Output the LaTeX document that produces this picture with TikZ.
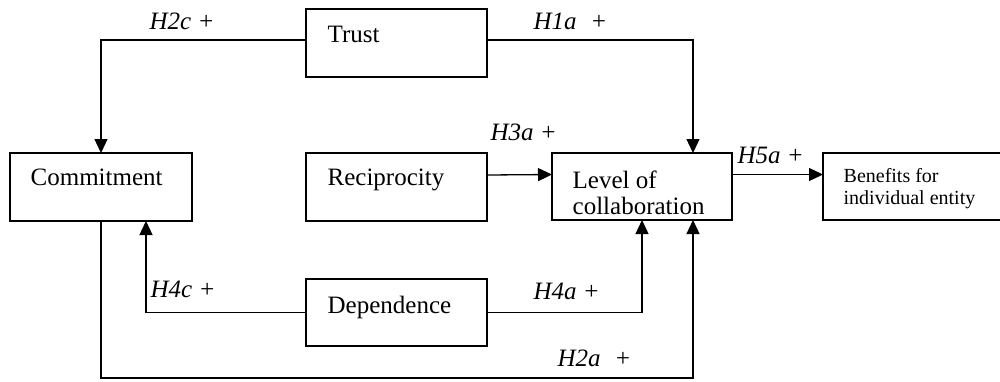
\documentclass[tikz,border=0pt]{standalone}
\usepackage{fontspec}
\setmainfont{Liberation Serif}
\usetikzlibrary{arrows.meta}

\begin{document}
\begin{tikzpicture}[x=1pt, y=-1pt,
  every path/.style={line width=1.3pt},
  conceptbox/.style={draw, line width=1.3pt, anchor=north west, inner sep=0pt, outer sep=0pt},
  boxtext/.style={anchor=north west, inner sep=0pt, align=left,
                  font=\fontsize{25}{26.5}\selectfont},
  smalltext/.style={anchor=north west, inner sep=0pt, align=left,
                  font=\fontsize{20}{22}\selectfont},
  hyp/.style={anchor=base west, inner sep=0pt, font=\itshape\fontsize{25}{30}\selectfont},
  arr/.style={-{Triangle[length=14pt,width=13pt]}, line width=1.3pt}
]
\useasboundingbox (0,0) rectangle (1000,381);

% concept boxes
\node[conceptbox, minimum width=181pt, minimum height=68pt] (trust)  at (306,9)   {};
\node[conceptbox, minimum width=182pt, minimum height=68pt] (commit) at (10,153)  {};
\node[conceptbox, minimum width=181pt, minimum height=68pt] (recip)  at (306,153) {};
\node[conceptbox, minimum width=181pt, minimum height=67pt] (dep)    at (306,279) {};
\node[conceptbox, minimum width=180pt, minimum height=67pt] (level)  at (552,153) {};
\node[conceptbox, minimum width=195pt, minimum height=67pt] (ben)    at (823,153) {};

% box captions
\node[boxtext] (trust-t)  at ([xshift=21pt,  yshift=-16pt]trust.north west)  {Trust};
\node[boxtext] (commit-t) at ([xshift=20pt,  yshift=-15pt]commit.north west) {Commitment};
\node[boxtext] (recip-t)  at ([xshift=21pt,  yshift=-15pt]recip.north west)  {Reciprocity};
\node[boxtext] (dep-t)    at ([xshift=21pt,  yshift=-16pt]dep.north west)    {Dependence};
\node[boxtext] (level-t)  at ([xshift=20pt,  yshift=-17pt]level.north west)  {Level of\\collaboration};
\node[smalltext] (ben-t)  at ([xshift=20pt,  yshift=-15pt]ben.north west)    {Benefits for\\individual entity};

% helper for the long bottom run
\coordinate (lowrun) at (0,378);

% connectors
\draw[arr] ([yshift=3pt]trust.west) -| (commit.north);
\draw[arr] ([yshift=3pt]trust.east) -| ([xshift=51pt]level.north);
\draw[arr] ([yshift=12pt]recip.east) -- ([yshift=12pt]level.west);
\draw[arr] ([yshift=12pt]level.east) -- ([yshift=12pt]level.east -| ben.west);
\draw[arr] (dep.west) -| ([xshift=45pt]commit.south);
\draw[arr] (dep.east) -| (level.south);
\draw[arr] (commit.south) -- (commit.south |- lowrun) -| ([xshift=51pt]level.south);

% hypothesis labels
\node[hyp] (h2c) at (149,29)  {H2c +};
\node[hyp] (h1a) at (533,29)  {H1a\hspace{0.55em}+};
\node[hyp] (h3a) at (490,140) {H3a +};
\node[hyp] (h5a) at (737,163) {H5a +};
\node[hyp] (h4c) at (150,297) {H4c +};
\node[hyp] (h4a) at (533,299) {H4a +};
\node[hyp] (h2a) at (557,366) {H2a\hspace{0.55em}+};
\end{tikzpicture}
\end{document}
